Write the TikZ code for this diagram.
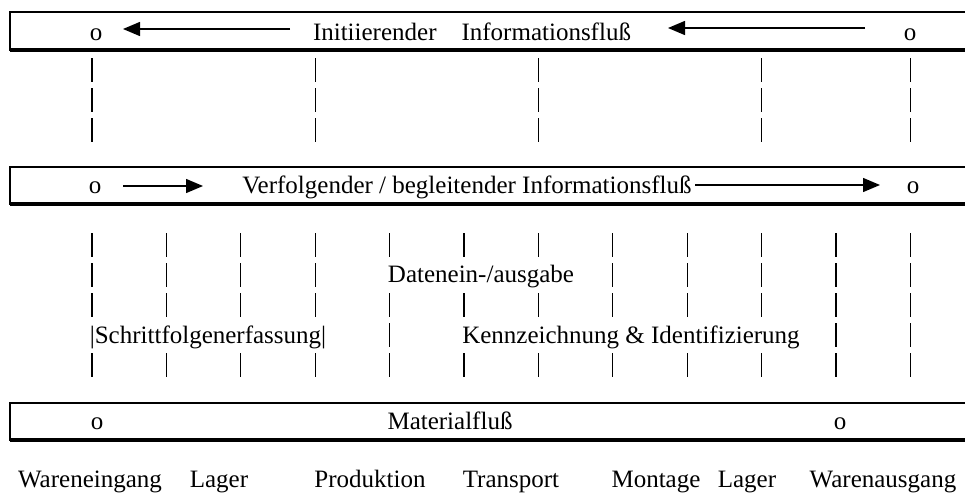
\documentclass[tikz,border=0pt]{standalone}
\usepackage{fontspec}
\setmainfont{Liberation Serif}
\usetikzlibrary{arrows.meta}
\begin{document}
\begin{tikzpicture}[x=0.5pt,y=-0.5pt,
  every node/.style={font=\fontsize{12.5}{15}\selectfont, inner sep=0pt},
  lbl/.style={anchor=base},
  band/.style={draw, line width=0.9pt},
  bandshadow/.style={line width=1.7pt},
  flow/.style={line width=0.7pt, -{Triangle[length=8.5pt,width=7pt]}},
  col/.style={line width=0.65pt, dash pattern=on 12pt off 3pt},
  cover/.style={anchor=base, fill=white, inner xsep=1pt, inner ysep=2pt}
]
\useasboundingbox (0,0) rectangle (965,493);

% bands
\draw[band] (10,12) rectangle (990,50);
\draw[bandshadow] (10,50) -- (990,50);
\draw[band] (10,167) rectangle (990,204);
\draw[bandshadow] (10,204) -- (990,204);
\draw[band] (10,403) rectangle (990,440);
\draw[bandshadow] (10,440) -- (990,440);

% dashed columns
\foreach \i in {0,3,6,9,11} \draw[col] ({92+74.4*\i},58) -- ++(0,84);
\foreach \i in {0,...,11} \draw[col] ({92+74.4*\i},233) -- ++(0,144);

% band 1
\node[lbl] (o1l) at (96,40) {o};
\node[lbl] (t1) at (472,40) {Initiierender\hspace{12.5pt}Informationsfluß};
\node[lbl] (o1r) at (910,40) {o};
\coordinate (a1s) at (290,29);
\coordinate (a1e) at (123,29);
\coordinate (a2s) at (865,28);
\coordinate (a2e) at (668,28);
\draw[flow] (a1s) -- (a1e);
\draw[flow] (a2s) -- (a2e);

% band 2
\node[lbl] (o2l) at (95,193) {o};
\node[lbl] (t2) at (467,193) {Verfolgender / begleitender Informationsfluß};
\node[lbl] (o2r) at (913,193) {o};
\coordinate (b1s) at (123,186);
\coordinate (b1e) at (203,186);
\coordinate (b2s) at (695,185);
\coordinate (b2e) at (880,185);
\draw[flow] (b1s) -- (b1e);
\draw[flow] (b2s) -- (b2e);

% band 3
\node[lbl] (o3l) at (97,429) {o};
\node[lbl] (t3) at (450,429) {Materialfluß};
\node[lbl] (o3r) at (840,429) {o};

% middle labels
\node[cover] (dat) at (481,282) {Datenein-/ausgabe};
\node[cover] (sfe) at (208,343) {|Schrittfolgenerfassung|};
\node[cover] (kid) at (631,343) {Kennzeichnung \& Identifizierung};

% stations
\node[lbl] (s1) at (90,487) {Wareneingang};
\node[lbl] (s2) at (219,487) {Lager};
\node[lbl] (s3) at (370,487) {Produktion};
\node[lbl] (s4) at (511,487) {Transport};
\node[lbl] (s5) at (656,487) {Montage};
\node[lbl] (s6) at (747,487) {Lager};
\node[lbl] (s7) at (883,487) {Warenausgang};
\end{tikzpicture}
\end{document}
